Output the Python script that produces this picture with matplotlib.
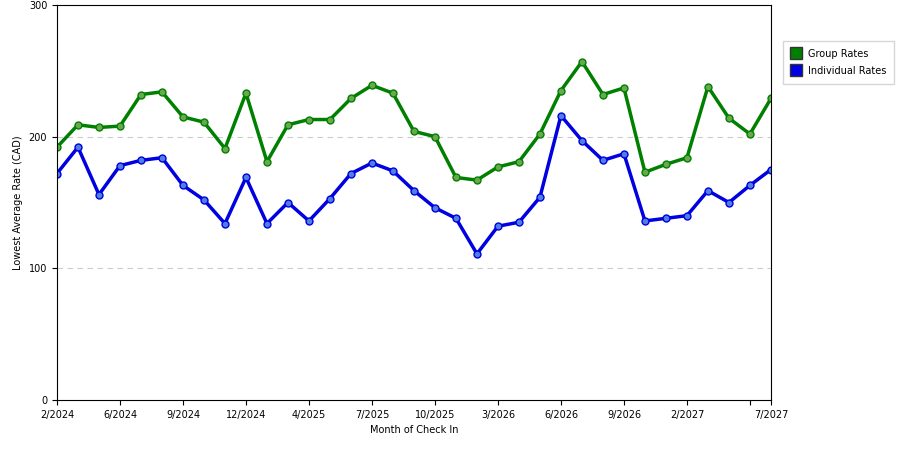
import matplotlib
matplotlib.use("Agg")
import matplotlib.pyplot as plt

group = [192,209,207,208,232,234,215,211,191,233,181,209,213,213,229,239,233,204,200,169,167,177,181,202,235,257,232,237,173,179,184,238,214,202,229]
indiv = [172,192,156,178,182,184,163,152,134,169,134,150,136,153,172,180,174,159,146,138,111,132,135,154,216,197,182,187,136,138,140,159,150,163,175]
tick_pos = [0,3,6,9,12,15,18,21,24,27,30,33,34]
tick_labels = ["2/2024","6/2024","9/2024","12/2024","4/2025","7/2025","10/2025","3/2026","6/2026","9/2026","2/2027","","7/2027"]

fig = plt.figure(figsize=(9,4.5), dpi=100)
ax = fig.add_axes([0.0633,0.111,0.7933,0.878])
x = range(len(group))
ax.plot(x, group, color="#008000", lw=2.5, marker="o", ms=5, mfc="#6aa84f", mec="#008000", label="Group Rates")
ax.plot(x, indiv, color="#0000e0", lw=2.5, marker="o", ms=5, mfc="#4f7fe0", mec="#0000e0", label="Individual Rates")
ax.set_xlim(0, 34)
ax.set_ylim(0, 300)
ax.set_yticks([0,100,200,300])
for yv in (100,200):
    ax.axhline(yv, color="#cccccc", lw=0.8, ls=(0,(5,4)), zorder=0)
ax.set_xticks(tick_pos)
ax.set_xticklabels(tick_labels, fontsize=7)
ax.tick_params(axis="y", labelsize=7)
ax.set_xlabel("Month of Check In", fontsize=7)
ax.set_ylabel("Lowest Average Rate (CAD)", fontsize=7)
leg = ax.legend(loc="upper left", bbox_to_anchor=(1.01, 0.92), fontsize=7, handlelength=1, handleheight=1,
                frameon=True, fancybox=False, edgecolor="#cccccc", borderpad=0.8, labelspacing=0.7)
for h, c in zip(leg.legend_handles, ["#008000", "#0000e0"]):
    h.set_marker("s"); h.set_markersize(9); h.set_linestyle("none"); h.set_markerfacecolor(c); h.set_markeredgecolor("#333333")
fig.savefig("out.png", dpi=100)
